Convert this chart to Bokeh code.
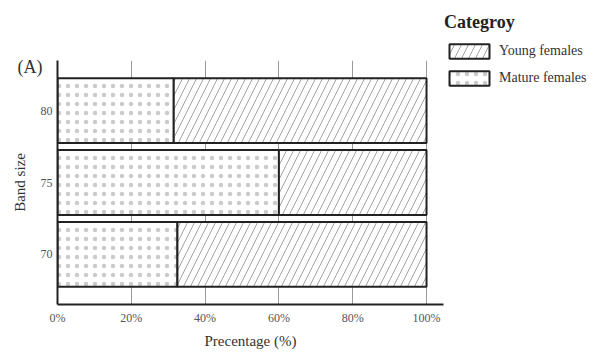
from bokeh.plotting import figure
from bokeh.models import (ColumnDataSource, FactorRange, Range1d, FixedTicker,
                          Legend, LegendItem, Label)
from bokeh.embed import file_html
from bokeh.resources import INLINE

# ---- data ----
band_sizes = ["70", "75", "80"]
mature_pct = [32.5, 60.0, 31.5]
young_pct = [100 - m for m in mature_pct]
x_ticks = [0, 20, 40, 60, 80, 100]
x_tick_labels = ["0%", "20%", "40%", "60%", "80%", "100%"]
series_names = ["Young females", "Mature females"]

SERIF = "Liberation Serif"

src = ColumnDataSource(dict(
    band=band_sizes,
    zero=[0] * len(band_sizes),
    mature=mature_pct,
    total=[m + y for m, y in zip(mature_pct, young_pct)],
))

p = figure(
    frame_width=386, frame_height=244,
    y_range=FactorRange(factors=band_sizes, range_padding=0.13),
    x_range=Range1d(0, 104.6),
    output_backend="svg", toolbar_location=None,
    min_border_left=57, min_border_right=0, min_border_top=60, min_border_bottom=48,
)
p.outline_line_color = None
p.background_fill_color = "white"

# bars
r_mature = p.hbar(y="band", left="zero", right="mature", height=0.9, source=src,
                  fill_color="white", line_color="#222222", line_width=2,
                  hatch_pattern="dot", hatch_color="#cbcbcb", hatch_scale=9,
                  hatch_weight=0.3)
r_young = p.hbar(y="band", left="mature", right="total", height=0.9, source=src,
                 fill_color="white", line_color="#222222", line_width=2,
                 hatch_pattern="right_diagonal_line", hatch_color="#8a8a8a",
                 hatch_scale=14, hatch_weight=0.8)

# axes
p.xaxis.ticker = FixedTicker(ticks=x_ticks)
p.xaxis.major_label_overrides = {t: l for t, l in zip(x_ticks, x_tick_labels)}
p.xaxis.axis_label = "Precentage (%)"
p.yaxis.axis_label = "Band size"
for ax in (p.xaxis[0], p.yaxis[0]):
    ax.axis_line_color = "#222222"
    ax.axis_line_width = 2
    ax.major_tick_in = 0
    ax.major_tick_out = 0
    ax.minor_tick_in = 0
    ax.minor_tick_out = 0
    ax.major_label_text_font = SERIF
    ax.major_label_text_font_size = "12px"
    ax.major_label_text_color = "#555555"
    ax.axis_label_text_font = SERIF
    ax.axis_label_text_font_size = "15px"
    ax.axis_label_text_font_style = "normal"
    ax.axis_label_text_color = "#333333"
p.xaxis.major_label_standoff = 6
p.xaxis.axis_label_standoff = 5
p.yaxis.major_label_standoff = 5
p.yaxis.axis_label_standoff = 10

p.ygrid.grid_line_color = None
p.xgrid.ticker = FixedTicker(ticks=x_ticks[1:])
p.xgrid.grid_line_color = "#9a9a9a"
p.xgrid.grid_line_width = 1

# legend
legend = Legend(
    items=[LegendItem(label=series_names[0], renderers=[r_young]),
           LegendItem(label=series_names[1], renderers=[r_mature])],
    location=(1, 216),
    title="Categroy",
    title_text_font=SERIF, title_text_font_style="bold", title_text_font_size="18px",
    title_text_color="#222222", title_standoff=8,
    label_text_font=SERIF, label_text_font_size="14px", label_text_color="#333333",
    glyph_width=50, glyph_height=18, label_height=20, label_standoff=5, spacing=7,
    padding=0, margin=0, border_line_color=None, background_fill_alpha=0,
)
p.add_layout(legend, "right")

p.add_layout(Label(x=-40, y=-6, x_units="screen", y_units="screen", text="(A)",
                   text_font=SERIF, text_font_size="18px", text_color="#333333",
                   text_baseline="middle"), "above")

open("out.html", "w").write(file_html(p, INLINE))
